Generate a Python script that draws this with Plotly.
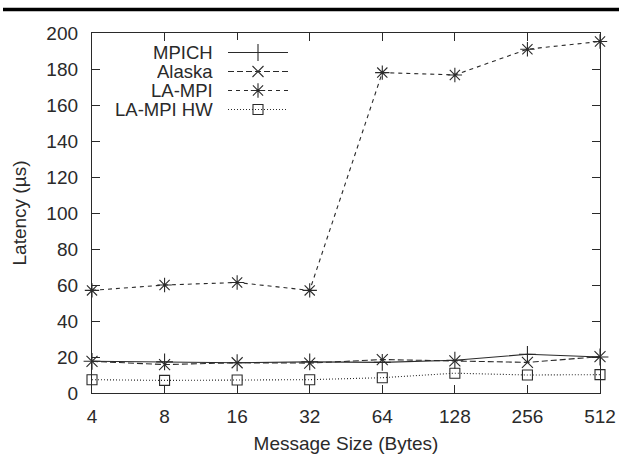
import plotly.graph_objects as go

sizes = [4, 8, 16, 32, 64, 128, 256, 512]
size_labels = ["4", "8", "16", "32", "64", "128", "256", "512"]
mpich = [17.6, 17.3, 16.8, 17.3, 17.0, 18.2, 21.5, 20.0]
alaska = [17.6, 15.8, 16.8, 16.6, 18.6, 17.8, 17.0, 20.2]
lampi = [57.0, 60.0, 61.4, 57.0, 178.0, 176.7, 191.0, 195.3]
lampi_hw = [7.4, 7.0, 7.2, 7.4, 8.5, 11.0, 10.0, 10.2]

series = [
    ("MPICH", mpich, "solid", "cross-thin", 12),
    ("Alaska", alaska, "6px,3px", "x-thin", 11),
    ("LA-MPI", lampi, "4px,4px", "asterisk", 12),
    ("LA-MPI HW", lampi_hw, "1px,2px", "square-open", 10),
]

ink = "#2a2a2a"
font = "Liberation Sans, Arial, sans-serif"
fs = 19

L, R, T, B = 92, 19, 33, 63
W, H = 619, 456
pw, ph = W - L - R, H - T - B

fig = go.Figure()
xs = list(range(len(sizes)))


def mk(sym, sz):
    return dict(symbol=sym, size=sz, color=ink,
                line=dict(color=ink, width=1.1))


for name, vals, dash, sym, sz in series:
    fig.add_trace(go.Scatter(
        x=xs, y=vals, mode="lines+markers", name=name,
        line=dict(color=ink, width=1.1, dash=dash),
        marker=mk(sym, sz),
        cliponaxis=False, showlegend=False,
    ))

# custom legend (text on left, sample on right)
rows = [52.5, 71.5, 90.5, 109.5]
for (name, vals, dash, sym, sz), ry in zip(series, rows):
    fig.add_trace(go.Scatter(
        x=[228, 288], y=[ry, ry], mode="lines", xaxis="x2", yaxis="y2",
        line=dict(color=ink, width=1.1, dash=dash), showlegend=False,
        hoverinfo="skip",
    ))
    fig.add_trace(go.Scatter(
        x=[258], y=[ry], mode="markers", xaxis="x2", yaxis="y2",
        marker=mk(sym, sz),
        showlegend=False, hoverinfo="skip", cliponaxis=False,
    ))
    fig.add_annotation(x=215, y=ry, xref="x2", yref="y2", text=name,
                       showarrow=False, xanchor="right", yanchor="middle",
                       height=17, valign="middle",
                       font=dict(family=font, size=18.5, color=ink))

fig.update_layout(
    width=W, height=H,
    margin=dict(l=L, r=R, t=T, b=B),
    paper_bgcolor="white", plot_bgcolor="white",
    font=dict(family=font, size=fs, color=ink),
    xaxis=dict(
        tickmode="array", tickvals=xs, ticktext=size_labels,
        range=[0, 7], showgrid=False, zeroline=False, automargin=False,
        showline=True, linecolor=ink, linewidth=1.3, mirror="ticks",
        ticks="inside", ticklen=8, tickcolor=ink, tickwidth=1.3,
        ticklabelstandoff=6,
        title=dict(text="Message Size (Bytes)", standoff=10,
                   font=dict(size=fs)),
    ),
    yaxis=dict(
        range=[0, 200], dtick=20, showgrid=False, zeroline=False,
        automargin=False,
        showline=True, linecolor=ink, linewidth=1.3, mirror="ticks",
        ticks="inside", ticklen=8, tickcolor=ink, tickwidth=1.3,
        ticklabelstandoff=9,
        title=dict(text="Latency (µs)", standoff=14, font=dict(size=fs)),
    ),
    xaxis2=dict(domain=[(200 - L) / pw, (300 - L) / pw], range=[200, 300],
                visible=False, fixedrange=True, anchor="y2"),
    yaxis2=dict(domain=[(H - B - 120) / ph, (H - B - 40) / ph],
                range=[120, 40], visible=False, fixedrange=True, anchor="x2"),
    showlegend=False,
)

# header rule at top of page
fig.add_shape(type="line", xref="paper", yref="paper",
              x0=(3 - L) / pw, x1=(W - L + 2) / pw,
              y0=1 + (T - 9.5) / ph, y1=1 + (T - 9.5) / ph,
              line=dict(color="black", width=3.5))

fig.write_html("out.html")
